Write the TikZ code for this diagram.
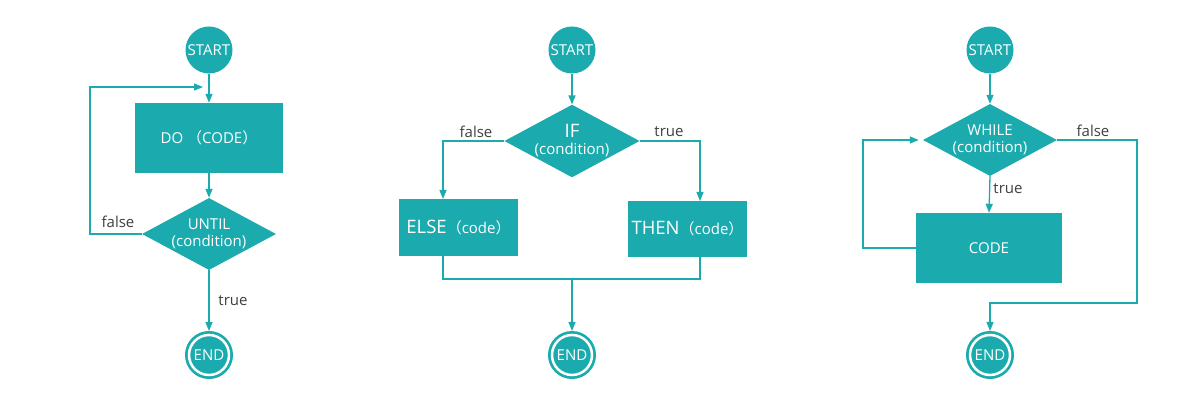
\documentclass[tikz,border=0pt]{standalone}
\usepackage{fontspec}
\setmainfont{Open Sans}
\newfontfamily\cjk{Noto Sans CJK SC}
\usetikzlibrary{shapes.geometric,arrows.meta}
\definecolor{tl}{RGB}{27,171,174}
\definecolor{lbl}{RGB}{64,64,64}
\tikzset{
 fcbase/.style={fill=tl,text=white,inner sep=0pt,font=\fontsize{15}{17}\selectfont},
 fcstart/.style={fcbase,circle,minimum size=47pt},
 fcend/.style={fcbase,circle,minimum size=40pt,draw=tl,double=white,double distance=2.5pt,line width=2.75pt,outer sep=4pt},
 fcbox/.style={fcbase,rectangle},
 fcdia/.style={fcbase,diamond,align=center,shape aspect=1.86,minimum width=134pt,minimum height=72pt},
 fcwire/.style={draw=tl,line width=1.3pt},
 fcarrow/.style={fcwire,-{Triangle[length=9pt,width=7pt]}},
 fclab/.style={text=lbl,font=\fontsize{15}{17}\selectfont,inner sep=0pt},
}
\newcommand{\bigtxt}{\fontsize{18.5}{21}\selectfont}
\begin{document}
\begin{tikzpicture}[x=1pt,y=-1pt]
\useasboundingbox[fill=white] (0,0) rectangle (1200,419);

% ---------- left: DO-UNTIL ----------
\node[fcstart] (s1) at (209,50) {START};
\node[fcbox,minimum width=148pt,minimum height=70pt] (do1) at (209,138) {DO {\cjk （}CODE{\cjk ）}};
\node[fcdia] (d1) at (209,234) {UNTIL\\(condition)};
\node[fcend] (e1) at (209,355) {END};
\coordinate (l1a) at (90,234);
\coordinate (l1b) at (90,87);
\coordinate (l1c) at (203,87);
\draw[fcarrow] (s1) -- (do1);
\draw[fcarrow] (do1) -- (d1);
\draw[fcarrow] (d1.west) -- (l1a) -- (l1b) -- (l1c);
\draw[fcarrow] (d1.south) -- (e1);
\node[fclab] (f1) at (118,222) {false};
\node[fclab] (t1) at (233,301) {true};

% ---------- middle: IF-THEN-ELSE ----------
\node[fcstart] (s2) at (572,50) {START};
\node[fcdia] (d2) at (572,141) {{\bigtxt IF}\\(condition)};
\node[fcbox,minimum width=119pt,minimum height=57pt] (else) at (458.5,227.5) {{\bigtxt ELSE}{\cjk （}code{\cjk ）}};
\node[fcbox,minimum width=119pt,minimum height=56pt] (then) at (687.5,229) {{\bigtxt THEN}{\cjk （}code{\cjk ）}};
\node[fcend] (e2) at (572,355) {END};
\coordinate (m1) at (443,141);
\coordinate (m2) at (443,199);
\coordinate (m3) at (700,141);
\coordinate (m4) at (700,201);
\coordinate (m5) at (443,256);
\coordinate (m6) at (443,279);
\coordinate (m7) at (700,279);
\coordinate (m8) at (700,257);
\coordinate (m9) at (572,279);
\draw[fcarrow] (s2) -- (d2);
\draw[fcarrow] (d2.west) -- (m1) -- (m2);
\draw[fcarrow] (d2.east) -- (m3) -- (m4);
\draw[fcwire] (m5) -- (m6) -- (m7) -- (m8);
\draw[fcarrow] (m9) -- (e2);
\node[fclab] (f2) at (476,132) {false};
\node[fclab] (t2) at (669,132) {true};

% ---------- right: WHILE ----------
\node[fcstart] (s3) at (990,50) {START};
\node[fcdia] (d3) at (990,140) {WHILE\\(condition)};
\node[fcbox,minimum width=146pt,minimum height=70pt] (code) at (989,248) {CODE};
\node[fcend] (e3) at (990,355) {END};
\coordinate (r1) at (863,248);
\coordinate (r2) at (863,140);
\coordinate (r3) at (1137,140);
\coordinate (r4) at (1137,303);
\coordinate (r5) at (990,303);
\draw[fcarrow] (s3) -- (d3);
\draw[fcarrow] (d3.south) -- (code.north);
\draw[fcarrow,shorten >=4pt] (code.west) -- (r1) -- (r2) -- (d3.west);
\draw[fcarrow] (d3.east) -- (r3) -- (r4) -- (r5) -- (e3);
\node[fclab] (t3) at (1008,189) {true};
\node[fclab] (f3) at (1093,131) {false};
\end{tikzpicture}
\end{document}
